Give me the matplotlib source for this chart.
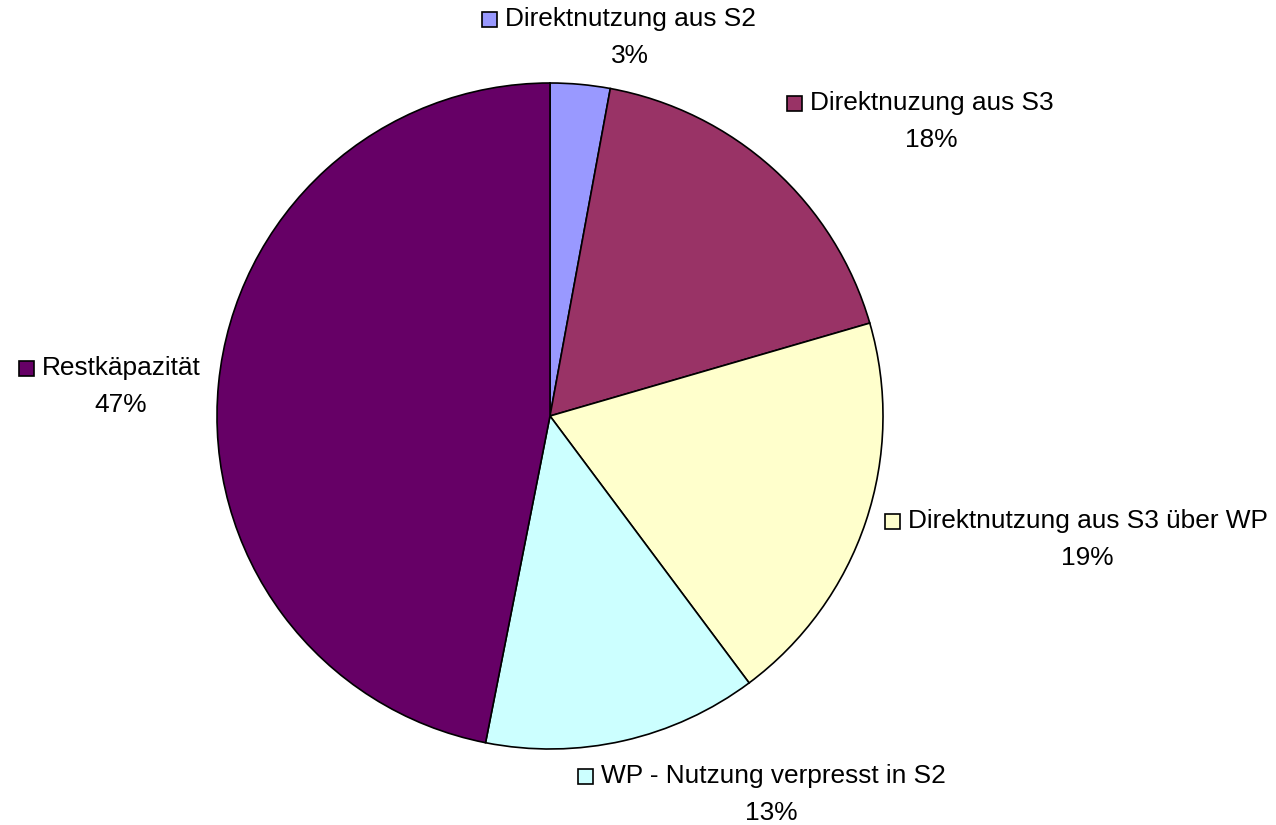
import matplotlib
matplotlib.use("Agg")
import matplotlib.pyplot as plt

categories = ["Direktnutzung aus S2", "Direktnuzung aus S3", "Direktnutzung aus S3 über WP",
              "WP - Nutzung verpresst in S2", "Restkäpazität"]
values = [2.9, 17.6, 19.3, 13.3, 46.9]
colors = ["#9999FF", "#993366", "#FFFFCC", "#CCFFFF", "#660066"]

W, H = 1276, 825
cx, cy, R = 550, 416, 333

plt.rcParams['font.family'] = ['Liberation Sans', 'DejaVu Sans']
fig = plt.figure(figsize=(W / 100, H / 100), dpi=100)
ax = fig.add_axes([0, 0, 1, 1])

ax.pie(values, colors=colors, startangle=90, counterclock=False, radius=1, center=(0, 0),
       wedgeprops=dict(edgecolor='black', linewidth=1.2), frame=True)
ax.set_xlim(-cx / R, (W - cx) / R)
ax.set_ylim(-(H - cy) / R, cy / R)
ax.axis('off')

# label layout (pixel positions: text left x, first line y, percent center x)
label_pos = [(505, 19, 630), (810, 103, 931), (908, 521, 1087), (601, 776, 771), (42, 368, 121)]
fs = 18.9
for cat, val, col, (tx, ty, pcx) in zip(categories, values, colors, label_pos):
    fig.text(tx / W, 1 - ty / H, cat, ha='left', va='center', fontsize=fs, color='black')
    fig.text(pcx / W, 1 - (ty + 37) / H, f"{round(val)}%", ha='center', va='center',
             fontsize=fs, color='black')
    kx = (tx - 16 - cx) / R
    ky = (cy - ty) / R
    ax.plot([kx], [ky], marker='s', markersize=10.8, markerfacecolor=col,
            markeredgecolor='black', markeredgewidth=1.2, linestyle='none', clip_on=False)

fig.savefig("out.png", dpi=100, facecolor='white')
